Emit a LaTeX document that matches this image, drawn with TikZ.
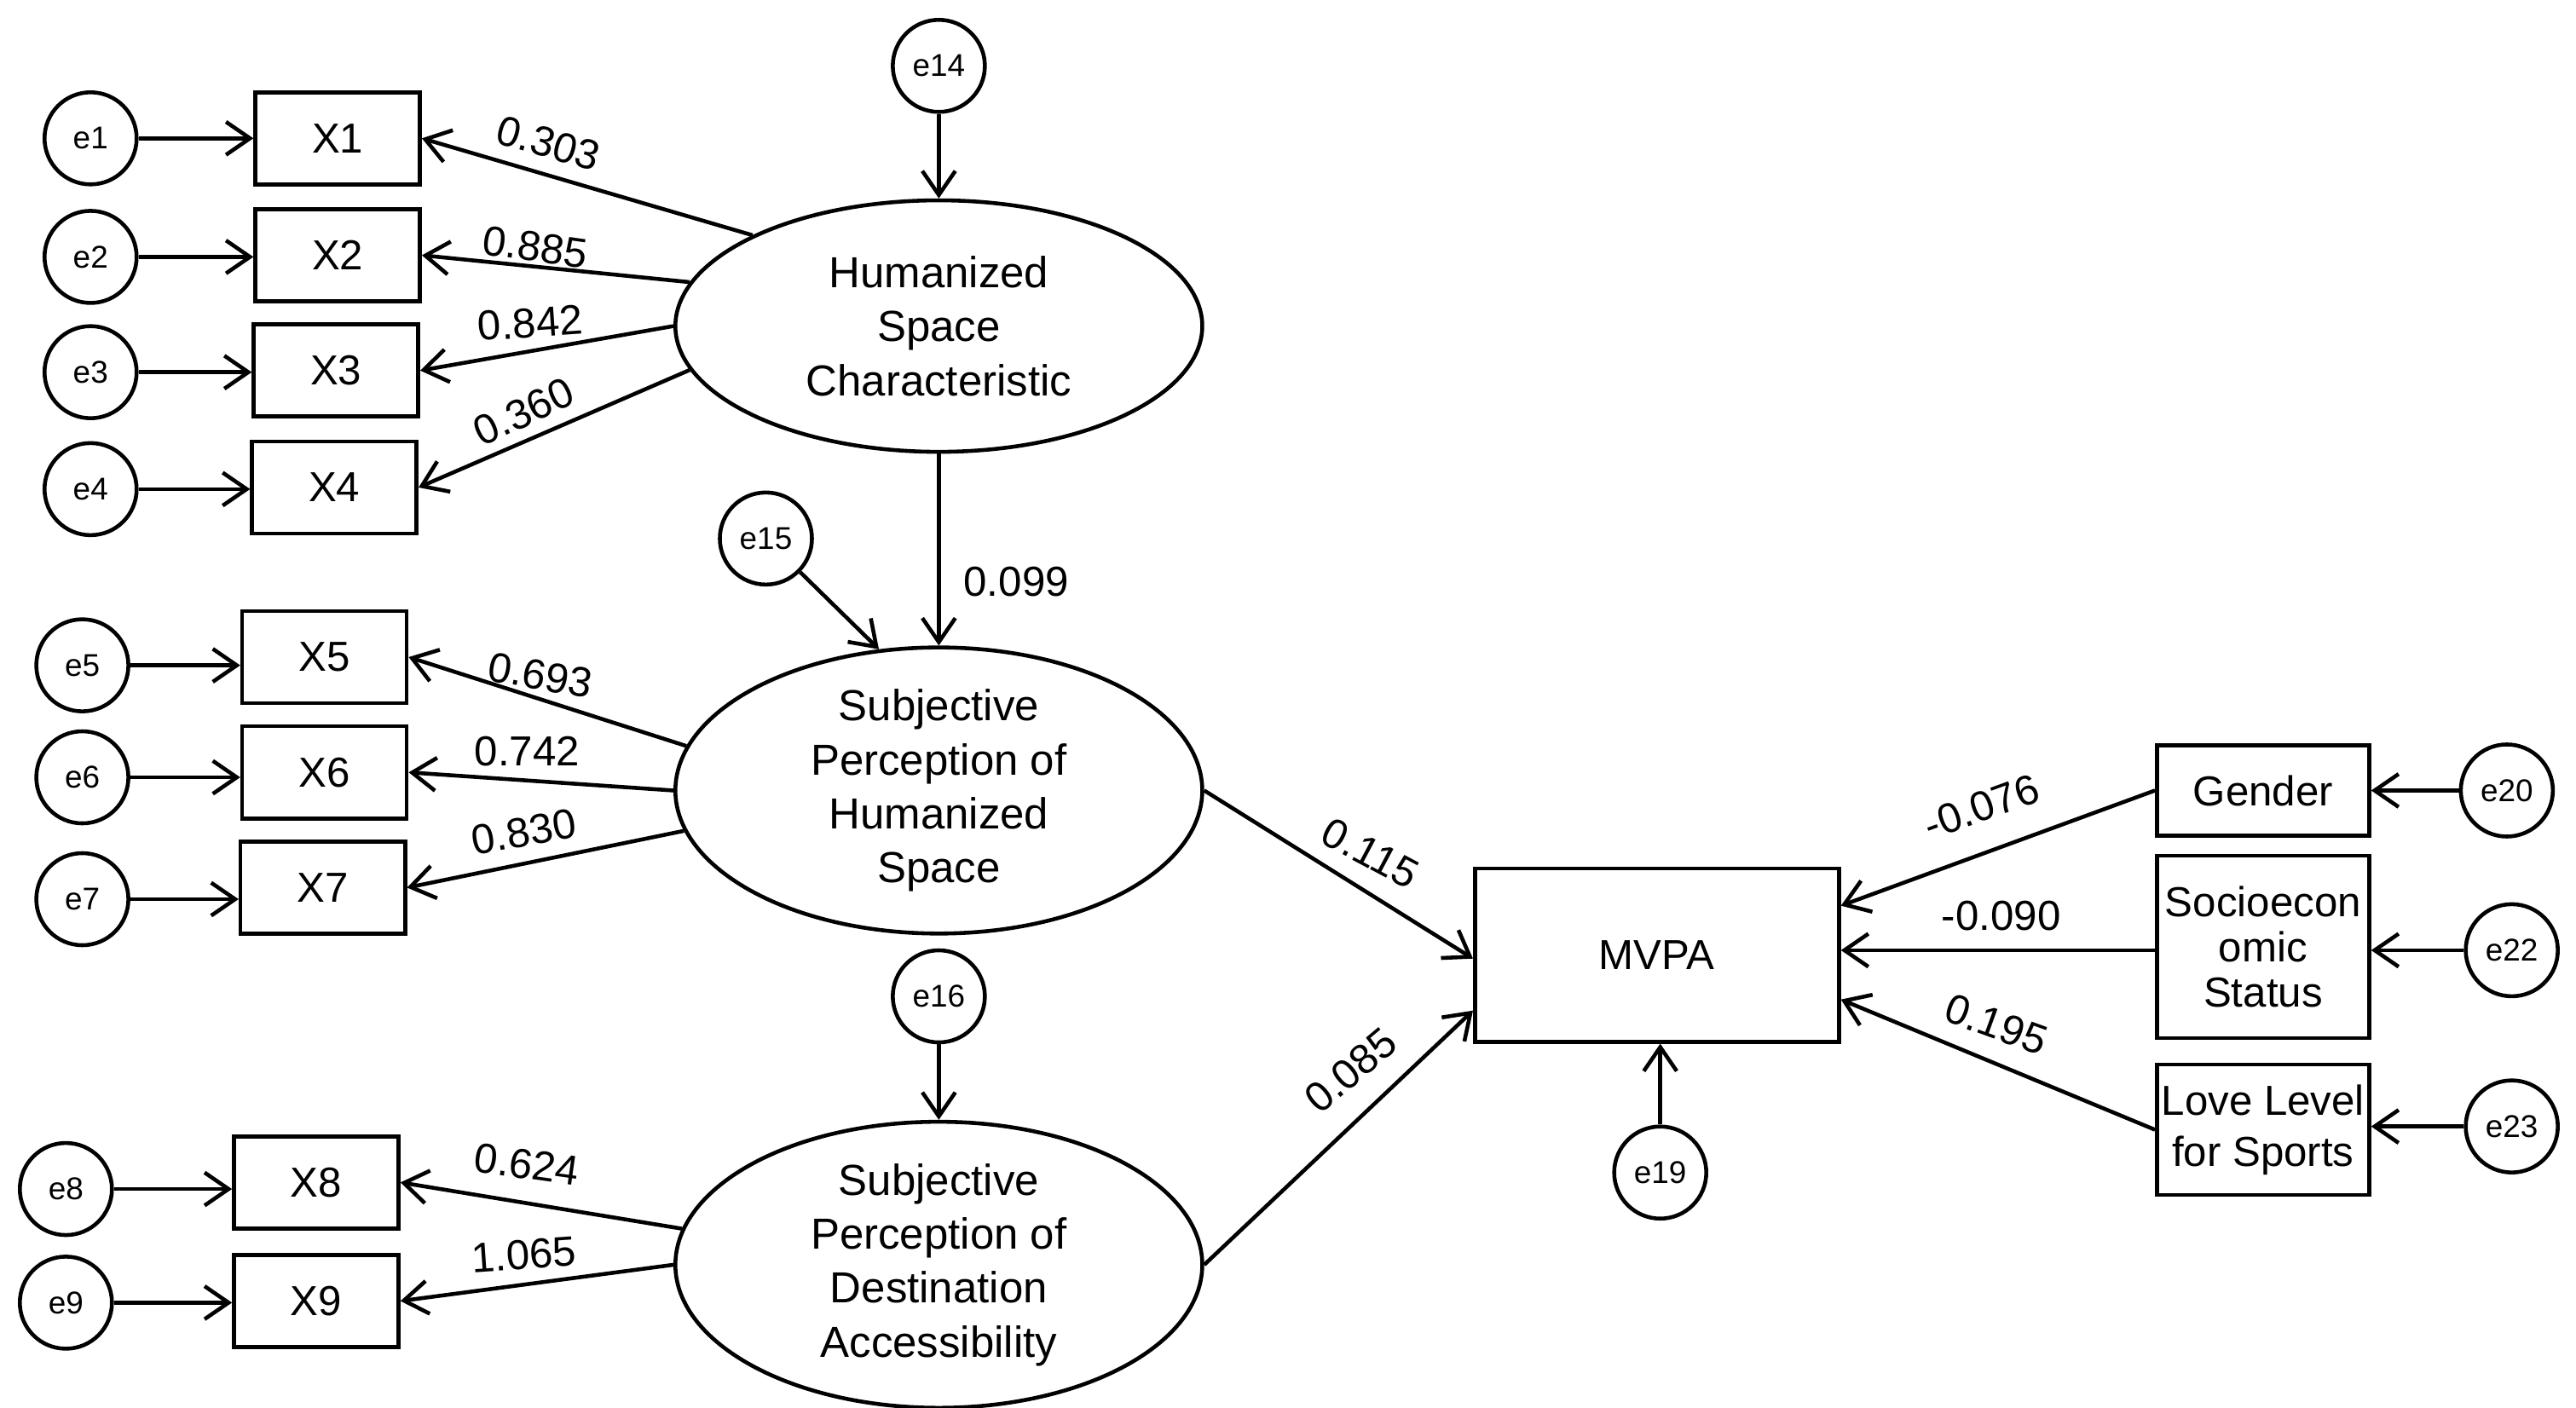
\documentclass[tikz,border=0pt]{standalone}
\usepackage{fontspec}
\setmainfont{Liberation Sans}
\usetikzlibrary{shapes.geometric,arrows.meta}
\begin{document}
\begin{tikzpicture}[x=0.01932cm,y=-0.01932cm,
  line width=1.3pt,
  ar/.style={-{Straight Barb[length=8pt,width=11pt,line width=1.3pt]}},
  err/.style={circle,draw,minimum size=1.08cm,inner sep=0pt,font=\fontsize{10.5}{12}\selectfont},
  box/.style={rectangle,draw,minimum width=1.93cm,minimum height=1.08cm,inner sep=0pt,font=\fontsize{14}{16}\selectfont},
  lat/.style={ellipse,draw,minimum width=6.18cm,minimum height=2.95cm,inner sep=0pt,align=center,font=\fontsize{14.5}{18}\selectfont},
  rbox/.style={rectangle,draw,minimum width=2.49cm,inner sep=0pt,align=center,font=\fontsize{14}{15}\selectfont},
  lab/.style={font=\fontsize{14}{16}\selectfont}]
\useasboundingbox (0,0) rectangle (1564,854.5);
% left column
\node[err] (e1) at (55,84) {e1};
\node[err] (e2) at (55,156) {e2};
\node[err] (e3) at (55,226) {e3};
\node[err] (e4) at (55,297) {e4};
\node[box] (x1) at (205,84) {X1};
\node[box] (x2) at (205,155) {X2};
\node[box] (x3) at (204,225) {X3};
\node[box] (x4) at (203,296) {X4};
\node[err] (e5) at (50,404) {e5};
\node[err] (e6) at (50,472) {e6};
\node[err] (e7) at (50,546) {e7};
\node[box] (x5) at (197,399) {X5};
\node[box] (x6) at (197,469) {X6};
\node[box] (x7) at (196,539) {X7};
\node[err] (e8) at (40,722) {e8};
\node[err] (e9) at (40,791) {e9};
\node[box] (x8) at (192,718) {X8};
\node[box] (x9) at (192,790) {X9};
% latents
\node[err] (e14) at (570,40) {e14};
\node[lat] (hsc) at (570,198) {Humanized\\Space\\Characteristic};
\node[err] (e15) at (465,327) {e15};
\node[lat] (sphs) at (570,480) {Subjective\\Perception of\\Humanized\\Space};
\node[err] (e16) at (570,605) {e16};
\node[lat] (spda) at (570,768) {Subjective\\Perception of\\Destination\\Accessibility};
% right
\node[rectangle,draw,minimum width=4.27cm,minimum height=2.03cm,font=\fontsize{14}{16}\selectfont] (mvpa) at (1006,580) {MVPA};
\node[err] (e19) at (1008,712) {e19};
\node[rbox,minimum height=1.06cm] (gen) at (1374,480) {Gender};
\node[rbox,minimum height=2.14cm] (ses) at (1374,575) {Socioecon\\omic\\Status};
\node[rbox,minimum height=1.53cm,font=\fontsize{14}{17}\selectfont] (love) at (1374,686) {Love Level\\for Sports};
\node[err] (e20) at (1522,480) {e20};
\node[err] (e22) at (1525,577) {e22};
\node[err] (e23) at (1525,684) {e23};
% error arrows
\foreach \e/\x in {e1/x1,e2/x2,e3/x3,e4/x4,e5/x5,e6/x6,e7/x7,e8/x8,e9/x9}
  \draw[ar] (\e.east) -- (\x.west |- \e.east);
\draw[ar] (e20) -- (gen.east);
\draw[ar] (e22) -- (e22 -| ses.east);
\draw[ar] (e23) -- (e23 -| love.east);
\draw[ar] (e14) -- (hsc.north);
\draw[ar] (e16) -- (spda.north);
\draw[ar] (e15) -- (sphs.113);
\draw[ar] (e19) -- (e19 |- mvpa.south);
% loadings
\draw[ar] (hsc.154) -- (x1.east);
\draw[ar] (hsc.170) -- (x2.east);
\draw[ar] (hsc.180) -- (x3.east);
\draw[ar] (hsc.190) -- (x4.east);
\draw[ar] (sphs.170) -- (x5.east);
\draw[ar] (sphs.180) -- (x6.east);
\draw[ar] (sphs.189) -- (x7.east);
\draw[ar] (spda.172) -- (x8.east);
\draw[ar] (spda.180) -- (x9.east);
\draw[ar] (hsc.south) -- (sphs.north);
\draw[ar] (sphs.east) -- ([yshift=-0.04cm]mvpa.west);
\draw[ar] (spda.east) -- ([yshift=-0.65cm]mvpa.west);
\draw[ar] (gen.west) -- ([yshift=0.58cm]mvpa.east);
\draw[ar] (ses.west |- e22) -- (mvpa.east |- e22);
\draw[ar] (love.west) -- ([yshift=-0.52cm]mvpa.east);
% labels
\node[lab,rotate=-16] at (333,87) {0.303};
\node[lab,rotate=-8] at (325,150) {0.885};
\node[lab,rotate=4] at (322,196) {0.842};
\node[lab,rotate=25] at (318,250) {0.360};
\node[lab] at (617,353) {0.099};
\node[lab,rotate=-10] at (328,410) {0.693};
\node[lab] at (320,456) {0.742};
\node[lab,rotate=10] at (318,505) {0.830};
\node[lab,rotate=-8] at (320,707) {0.624};
\node[lab,rotate=4] at (318,762) {1.065};
\node[lab,rotate=-28] at (832,518) {0.115};
\node[lab,rotate=40] at (820,650) {0.085};
\node[lab,rotate=20] at (1203,490) {-0.076};
\node[lab] at (1215,556) {-0.090};
\node[lab,rotate=-20] at (1212,622) {0.195};
\end{tikzpicture}
\end{document}
